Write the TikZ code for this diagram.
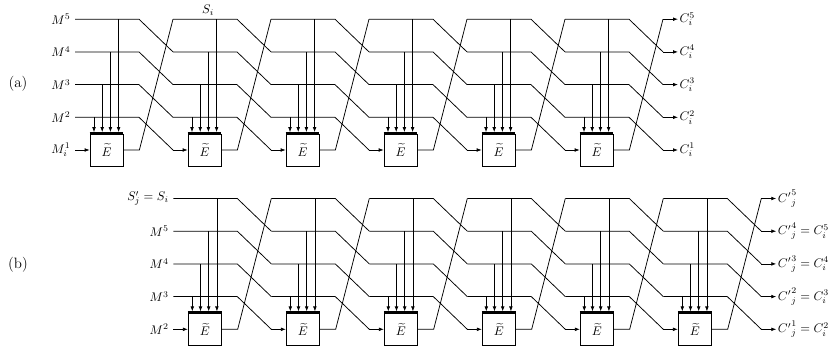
\documentclass[tikz,border=0pt]{standalone}
\usetikzlibrary{arrows.meta}
\tikzset{
	enc/.style={draw, minimum width=26.4pt, minimum height=25.6pt, inner sep=0pt},
	bar/.style={line width=2.4pt},
	feed/.style={-{Latex[length=4pt,width=3pt]}},
}
\begin{document}
\begin{tikzpicture}[x=0.8pt,y=-0.8pt,line width=0.6pt]
	\useasboundingbox (0,0) rectangle (835,348);
	\foreach \p/\xs/\ys in {a/90/150,b/188.3/329.3} {
		\foreach \k in {1,...,7}
			\foreach \r in {1,...,5}
				\coordinate (\p-\k-\r) at ({\xs+(\k-1)*98-15},{\ys-(\r-1)*32.7});
		\foreach \k in {1,...,6} {
			\pgfmathtruncatemacro\n{\k+1}
			\node[enc] (\p E\k) at ({\xs+(\k-1)*98+16.5},\ys) {$\widetilde{E}$};
			\draw[bar] (\p E\k.north west) -- (\p E\k.north east);
			\draw[feed] (\p-\k-1) -- (\p E\k.west);
			\draw (\p E\k.east) -- ++(16,0) -- (\p-\n-5);
			\foreach \r in {2,...,5} {
				\pgfmathtruncatemacro\q{\r-1}
				\draw (\p-\k-\r) -- ++(64,0) -- (\p-\n-\q);
				\path (\p-\k-\r) ++({19+(\r-2)*8.2},0) coordinate (\p T\k\r);
				\draw[feed,shorten >=1.2pt] (\p T\k\r) -- (\p T\k\r |- \p E\k.north);
			}
		}
		\foreach \r in {1,...,5}
			\draw[feed] (\p-7-\r) -- ++(15,0) coordinate (\p O\r);
	}
	\node (pa) at (18,84) {\large (a)};
	\node (pb) at (18,265) {\large (b)};
	\foreach \r in {2,...,5}
		\node[left] (la\r) at (a-1-\r) {$M^\r$};
	\node[left] (la1) at (a-1-1) {$M_i^1$};
	\node (Si) at (208,10) {$S_i$};
	\foreach \r in {1,...,5}
		\node[right,inner sep=1pt] (ra\r) at (aO\r) {$C_i^\r$};
	\node[left] (lb5) at (b-1-5) {$S'_j = S_i$};
	\node[right,inner sep=1pt] (rb5) at (bO5) {${C'}^5_j$};
	\foreach \r in {1,...,4} {
		\pgfmathtruncatemacro\m{\r+1}
		\node[left] (lb\r) at (b-1-\r) {$M^\m$};
		\node[right,inner sep=1pt] (rb\r) at (bO\r) {${C'}^\r_j = C_i^\m$};
	}
\end{tikzpicture}
\end{document}
